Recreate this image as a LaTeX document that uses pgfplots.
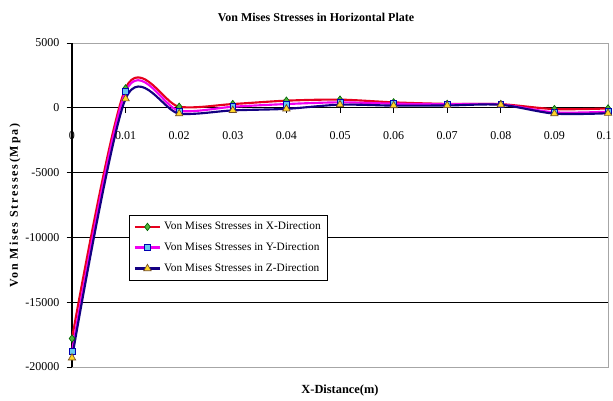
\documentclass[border=0pt]{standalone}
\usepackage{pgfplots}
\pgfplotsset{compat=1.18}
\usepackage{fontspec}
\setmainfont{Liberation Serif}
\definecolor{xline}{RGB}{230,0,30}
\definecolor{yline}{RGB}{240,0,240}
\definecolor{zline}{RGB}{20,0,130}
\definecolor{xmark}{RGB}{80,180,60}
\definecolor{ymark}{RGB}{100,200,240}
\definecolor{zmark}{RGB}{255,215,40}
\begin{document}
\begin{tikzpicture}
\begin{axis}[
  at={(0,0)}, anchor=south west,
  scale only axis, width=402pt, height=243pt,
  xmin=0, xmax=0.1, ymin=-20000, ymax=5000,
  ytick={-20000,-15000,-10000,-5000,0,5000},
  scaled y ticks=false,
  xtick=\empty,
  ymajorgrids, grid style={black, line width=0.6pt},
  axis line style={gray!70, line width=0.7pt},
  tick style={black, line width=0.5pt},
  ytick pos=left, tick align=outside, major tick length=4pt,
  yticklabel style={font=\fontsize{9}{10}\selectfont, xshift=-2pt},
  /pgf/number format/assume math mode=true,
  /pgf/number format/1000 sep={},
  clip=false,
  legend style={at={(axis cs:0.01063,-8272)}, anchor=north west, font=\fontsize{8.5}{9}\selectfont, draw=black, line width=0.7pt, row sep=4.5pt, inner sep=3pt},
  legend cell align=left,
  legend image code/.code={\draw[#1, line width=2pt] (0pt,0pt) -- (19pt,0pt); \path[#1] plot coordinates {(9.5pt,0pt)};},
  every axis plot/.append style={smooth, tension=0.5, line width=1.6pt},
]
\draw[black, line width=0.8pt] (axis cs:0,-20000) -- (axis cs:0,5000);
\addplot[xline, mark=diamond*, mark size=2.8pt, mark options={fill=xmark, draw=black!60!green, line width=0.5pt}] coordinates {
(0,-17800) (0.01,1500) (0.02,80) (0.03,290) (0.04,550) (0.05,630) (0.06,420) (0.07,300) (0.08,280) (0.09,-100) (0.1,-50)};
\addlegendentry{Von Mises Stresses in X-Direction}
\addplot[yline, mark=square*, mark size=2.2pt, mark options={fill=ymark, draw=blue!70!black, line width=0.5pt}] coordinates {
(0,-18800) (0.01,1250) (0.02,-230) (0.03,80) (0.04,290) (0.05,420) (0.06,320) (0.07,280) (0.08,260) (0.09,-350) (0.1,-300)};
\addlegendentry{Von Mises Stresses in Y-Direction}
\addplot[zline, mark=triangle*, mark size=3.2pt, mark options={fill=zmark, draw=brown!60!black, line width=0.5pt}] coordinates {
(0,-19300) (0.01,700) (0.02,-450) (0.03,-200) (0.04,-80) (0.05,240) (0.06,170) (0.07,180) (0.08,230) (0.09,-450) (0.1,-420)};
\addlegendentry{Von Mises Stresses in Z-Direction}
\foreach \v/\l/\s in {0/0/0,0.01/0.01/0,0.02/0.02/0,0.03/0.03/0,0.04/0.04/0,0.05/0.05/0,0.06/0.06/0,0.07/0.07/0,0.08/0.08/0,0.09/0.09/0,0.1/0.1/-3}{
  \edef\temp{\noexpand\node[font=\noexpand\fontsize{9}{10}\noexpand\selectfont, inner sep=0pt, yshift=-21pt, xshift=\s pt] at (axis cs:\v,0) {\l};
  \noexpand\draw[black, line width=0.5pt] (axis cs:\v,0) -- ([yshift=-4pt]axis cs:\v,0);}
  \temp
}
\end{axis}
\node[font=\bfseries\fontsize{9}{10}\selectfont] at (183pt,262.5pt) {Von Mises Stresses in Horizontal Plate};
\node[font=\bfseries\fontsize{9.3}{10}\selectfont] at (201pt,-18pt) {X-Distance(m)};
\node[font=\bfseries\fontsize{9}{10}\selectfont\addfontfeature{LetterSpace=15}, rotate=90] at (-42.75pt,121pt) {Von Mises Stresses(Mpa)};
\pgfresetboundingbox
\path (-54pt,-24.75pt) rectangle (405.75pt,275.25pt);
\end{tikzpicture}
\end{document}
